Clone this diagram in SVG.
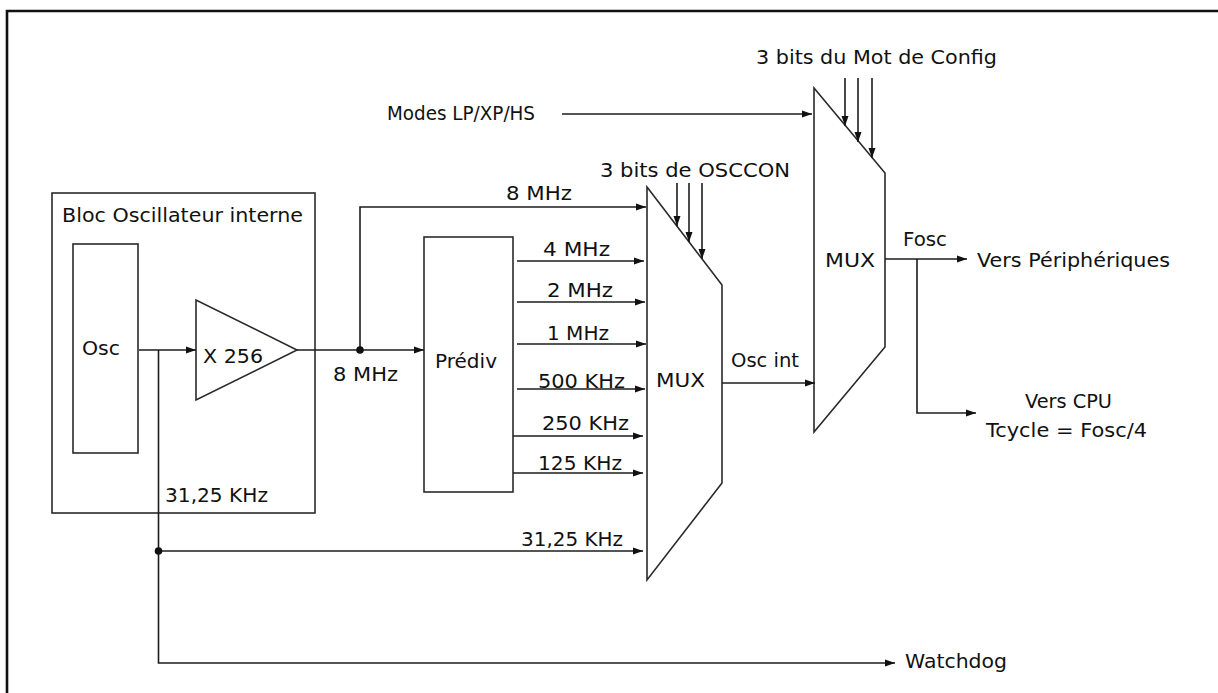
<svg xmlns="http://www.w3.org/2000/svg" width="1218" height="693" viewBox="0 0 1218 693">
<style>
.ln{fill:none;stroke:#1c1c1c;stroke-width:1.6}
.ar{marker-end:url(#ah)}
.box{fill:none;stroke:#2a2a2a;stroke-width:1.6}
.t{font-family:"DejaVu Sans","Liberation Sans",sans-serif;font-size:20px;fill:#111}
</style>
<defs>
<marker id="ah" markerUnits="userSpaceOnUse" markerWidth="10" markerHeight="8" refX="10" refY="4" orient="auto">
<path d="M0,0.5 L10,4 L0,7.5 z" fill="#111"/>
</marker>
</defs>
<rect width="1218" height="693" fill="#fff"/>
<path d="M7,693 V11 H1218" fill="none" stroke="#111" stroke-width="2.6"/>

<g id="bloc">
<rect class="box" x="52" y="193" width="263" height="320"/>
<text class="t" x="62" y="222" textLength="241" lengthAdjust="spacingAndGlyphs">Bloc Oscillateur interne</text>
<text class="t" x="165" y="502" textLength="103" lengthAdjust="spacingAndGlyphs">31,25 KHz</text>
</g>
<g id="osc">
<rect class="box" x="73" y="244" width="65" height="209"/>
<text class="t" x="82" y="355" textLength="38" lengthAdjust="spacingAndGlyphs">Osc</text>
</g>
<g id="amp">
<polygon class="box" points="196,300 196,400 297,350"/>
<text class="t" x="203" y="363" textLength="60" lengthAdjust="spacingAndGlyphs">X 256</text>
</g>
<g id="prediv">
<rect class="box" x="424" y="237" width="89" height="255"/>
<text class="t" x="435" y="368" textLength="62" lengthAdjust="spacingAndGlyphs">Prédiv</text>
</g>
<g id="mux1">
<polygon class="box" points="647,187 722,285 722,483 647,580"/>
<text class="t" x="656" y="387" textLength="49" lengthAdjust="spacingAndGlyphs">MUX</text>
</g>
<g id="mux2">
<polygon class="box" points="814,88 885,173 885,347 814,432"/>
<text class="t" x="825" y="267" textLength="50" lengthAdjust="spacingAndGlyphs">MUX</text>
</g>
<g id="labels">
<text class="t" x="333" y="381" textLength="65" lengthAdjust="spacingAndGlyphs">8 MHz</text>
<text class="t" x="506" y="200" textLength="66" lengthAdjust="spacingAndGlyphs">8 MHz</text>
<text class="t" x="543" y="256" textLength="67" lengthAdjust="spacingAndGlyphs">4 MHz</text>
<text class="t" x="547" y="297" textLength="66" lengthAdjust="spacingAndGlyphs">2 MHz</text>
<text class="t" x="547" y="340" textLength="62" lengthAdjust="spacingAndGlyphs">1 MHz</text>
<text class="t" x="538" y="388" textLength="87" lengthAdjust="spacingAndGlyphs">500 KHz</text>
<text class="t" x="542" y="430" textLength="87" lengthAdjust="spacingAndGlyphs">250 KHz</text>
<text class="t" x="538" y="470" textLength="84" lengthAdjust="spacingAndGlyphs">125 KHz</text>
<text class="t" x="521" y="546" textLength="102" lengthAdjust="spacingAndGlyphs">31,25 KHz</text>
<text class="t" x="600" y="177" textLength="190" lengthAdjust="spacingAndGlyphs">3 bits de OSCCON</text>
<text class="t" x="756" y="64" textLength="241" lengthAdjust="spacingAndGlyphs">3 bits du Mot de Config</text>
<text class="t" x="387" y="120" textLength="148" lengthAdjust="spacingAndGlyphs">Modes LP/XP/HS</text>
<text class="t" x="903" y="246" textLength="44" lengthAdjust="spacingAndGlyphs">Fosc</text>
<text class="t" x="977" y="267" textLength="193" lengthAdjust="spacingAndGlyphs">Vers Périphériques</text>
<text class="t" x="731" y="367" textLength="68" lengthAdjust="spacingAndGlyphs">Osc int</text>
<text class="t" x="1025" y="408" textLength="87" lengthAdjust="spacingAndGlyphs">Vers CPU</text>
<text class="t" x="986" y="437" textLength="161" lengthAdjust="spacingAndGlyphs">Tcycle = Fosc/4</text>
<text class="t" x="905" y="668" textLength="102" lengthAdjust="spacingAndGlyphs">Watchdog</text>
</g>

<g id="connectors">
<path class="ln ar" d="M139,350 H196"/>
<path class="ln ar" d="M158.5,350 V663 H895"/>
<path class="ln ar" d="M158.5,551 H643"/>
<path class="ln ar" d="M297,350 H424"/>
<path class="ln ar" d="M360,350 V207 H646"/>
<path class="ln ar" d="M517,261 H644"/>
<path class="ln ar" d="M517,302 H645"/>
<path class="ln ar" d="M517,344 H646"/>
<path class="ln ar" d="M517,389 H645"/>
<path class="ln ar" d="M513,436 H643"/>
<path class="ln ar" d="M513,473 H643"/>
<path class="ln ar" d="M677,183 V226"/>
<path class="ln ar" d="M689,183 V242"/>
<path class="ln ar" d="M702,183 V259"/>
<path class="ln ar" d="M722,383 H815"/>
<path class="ln ar" d="M562,114 H812"/>
<path class="ln ar" d="M845,78 V126"/>
<path class="ln ar" d="M858,78 V142"/>
<path class="ln ar" d="M872,78 V158"/>
<path class="ln ar" d="M885,259 H967"/>
<path class="ln ar" d="M917,259 V413 H976"/>
<circle cx="360" cy="350" r="3.8" fill="#111"/>
<circle cx="158.5" cy="551" r="3.8" fill="#111"/>
</g>
</svg>
